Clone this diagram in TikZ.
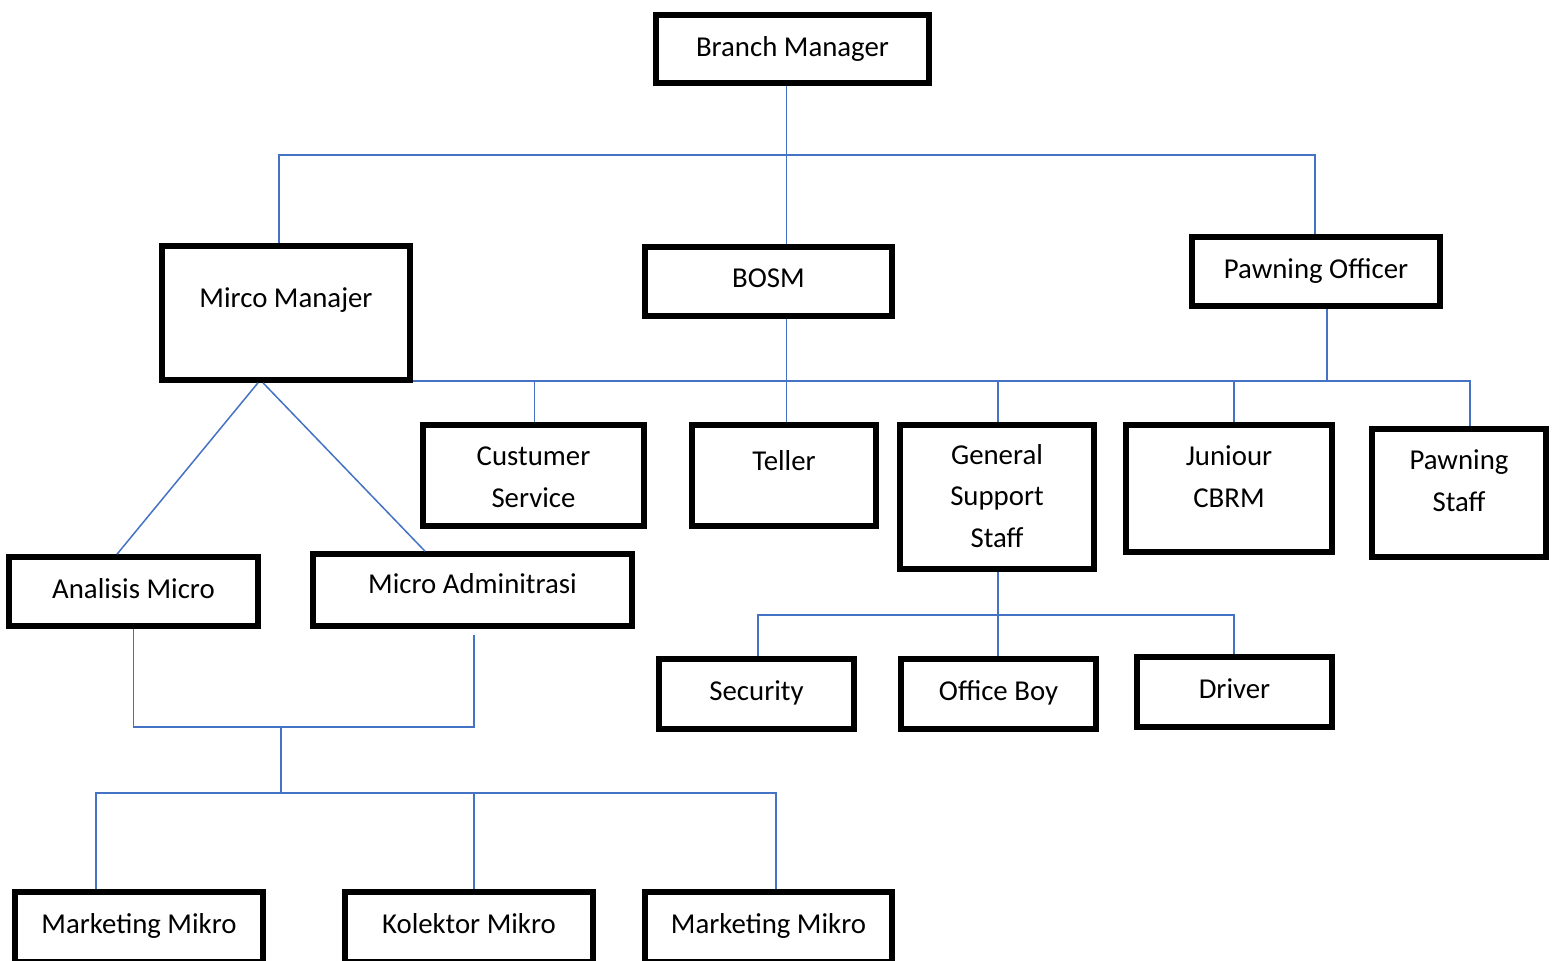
\documentclass[tikz,border=0pt]{standalone}
\usepackage{fontspec}
\setmainfont{Carlito}
\definecolor{orglink}{HTML}{4472C4}

\begin{document}
\begin{tikzpicture}[x=0.5pt, y=-0.5pt,
    box/.style={draw=black, line width=2.8pt, inner sep=0pt, align=center,
      font=\fontsize{14.4}{20.75}\selectfont},
    link/.style={draw=orglink, line width=0.75pt}]
  \useasboundingbox (0,0) rectangle (1553,960);
  \clip (0,0) rectangle (1553,960);

  % boxes
  \node[box, minimum width=136.5pt, text height=20.5pt, text depth=13.5pt] (bm) at (792.5,49) {Branch Manager};
  \node[box, minimum width=124pt, text height=30.5pt, text depth=36.5pt] (mm) at (286,313) {Mirco Manajer};
  \node[box, minimum width=123.5pt, text height=20pt, text depth=14.5pt] (bosm) at (768.5,281.5) {BOSM};
  \node[box, minimum width=124pt, text height=20.5pt, text depth=14pt] (po) at (1316,271.5) {Pawning Officer};
  \node[box, minimum width=110.5pt, text height=41pt, text depth=9.5pt] (cs) at (533.5,475.5) {Custumer\\Service};
  \node[box, minimum width=92pt, text height=22.5pt, text depth=28pt] (teller) at (784,475.5) {Teller};
  \node[box, minimum width=97pt, text height=61pt, text depth=11pt] (gss) at (997,497) {General\\Support\\Staff};
  \node[box, minimum width=103pt, text height=41pt, text depth=22.5pt] (jc) at (1229,488.5) {Juniour\\CBRM};
  \node[box, minimum width=87pt, text height=41pt, text depth=23pt] (ps) at (1459,493) {Pawning\\Staff};
  \node[box, minimum width=124.5pt, text height=20.5pt, text depth=14pt] (am) at (133.5,591.5) {Analisis Micro};
  \node[box, minimum width=159.5pt, text height=19.5pt, text depth=16.5pt] (ma) at (472.5,590) {Micro Adminitrasi};
  \node[box, minimum width=97.5pt, text height=20.5pt, text depth=14.5pt] (sec) at (756.5,694) {Security};
  \node[box, minimum width=97.5pt, text height=20.5pt, text depth=14.5pt] (ob) at (998.5,694) {Office Boy};
  \node[box, minimum width=97.5pt, text height=20.5pt, text depth=14.5pt] (drv) at (1234.5,692) {Driver};
  \node[box, minimum width=124pt, text height=20.5pt, text depth=14.5pt] (mk1) at (139,927) {Marketing Mikro};
  \node[box, minimum width=124pt, text height=20.5pt, text depth=14.5pt] (ko) at (469,927) {Kolektor Mikro};
  \node[box, minimum width=123.5pt, text height=20.5pt, text depth=14.5pt] (mk2) at (768.5,927) {Marketing Mikro};

  % junctions
  \coordinate (top) at (786.5,155);
  \coordinate (topl) at (279,155);
  \coordinate (topr) at (1315,155);
  \coordinate (bus) at (1470,381);
  \coordinate (xcs) at (534.5,381);
  \coordinate (xgss) at (998,381);
  \coordinate (xjc) at (1234,381);
  \coordinate (xpo) at (1327,381);
  \coordinate (mic) at (281,727);
  \coordinate (micr) at (474,727);
  \coordinate (mict) at (474,635);
  \coordinate (mkt) at (281,793);
  \coordinate (mktl) at (96,793);
  \coordinate (mktm) at (474,793);
  \coordinate (mktr) at (776,793);
  \coordinate (sup) at (998,615);
  \coordinate (supl) at (758,615);
  \coordinate (supr) at (1234,615);

  % links
  \draw[link] (top |- bm.south) -- (top |- bosm.north);
  \draw[link] (topl |- mm.north) -- (topl) -- (topr) -- (topr |- po.north);
  \draw[link] (top |- bosm.south) -- (top |- teller.north);
  \draw[link] (bus -| mm.east) -- (bus) -- (bus |- ps.north);
  \draw[link] (xcs) -- (xcs |- cs.north);
  \draw[link] (xgss) -- (xgss |- gss.north);
  \draw[link] (xjc) -- (xjc |- jc.north);
  \draw[link] (xpo |- po.south) -- (xpo);
  \draw[link] ([xshift=-14pt]mm.south) -- ([xshift=-8.25pt]am.north);
  \draw[link] ([xshift=-11.5pt]mm.south) -- ([xshift=-23.75pt]ma.north);
  \draw[link] (am.south) |- (micr) -- (mict);
  \draw[link] (mic) -- (mkt);
  \draw[link] (mktl |- mk1.north) -- (mktl) -- (mktr) -- (mktr |- mk2.north);
  \draw[link] (mktm) -- (mktm |- ko.north);
  \draw[link] (sup |- gss.south) -- (sup |- ob.north);
  \draw[link] (supl |- sec.north) -- (supl) -- (supr) -- (supr |- drv.north);
\end{tikzpicture}
\end{document}
